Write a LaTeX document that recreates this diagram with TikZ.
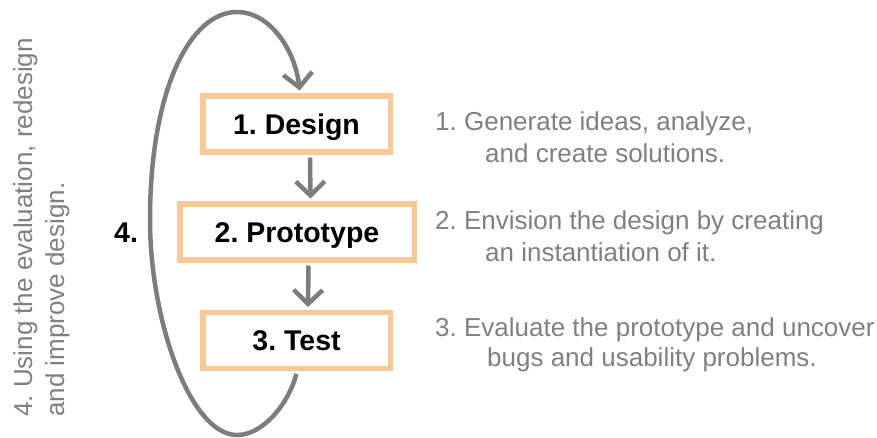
\documentclass[tikz,border=0pt]{standalone}
\usepackage{fontspec}
\setmainfont{Liberation Sans}
\usetikzlibrary{arrows.meta}
\definecolor{peach}{RGB}{250,200,150}
\definecolor{flowgray}{RGB}{125,125,125}
\definecolor{notegray}{RGB}{128,128,128}
\frenchspacing
\begin{document}
\begin{tikzpicture}[x=1pt,y=-1pt,
  stagebox/.style={draw=peach, line width=5.5pt, fill=white, minimum height=56pt,
    inner sep=0pt, text height=20.5pt, text depth=0pt,
    font=\fontsize{28.5}{34}\selectfont\bfseries},
  flow/.style={draw=flowgray, line width=4.5pt,
    -{Straight Barb[length=14pt,width=29pt,line width=4.5pt]},
    shorten <=2.75pt, shorten >=2.75pt},
  note/.style={anchor=base west, inner sep=0pt, text=notegray,
    font=\fontsize{26}{31}\selectfont}]
\useasboundingbox (0,0) rectangle (877,437);

% process stages
\node[stagebox, minimum width=187.5pt] (design) at (296.5,124) {1. Design};
\node[stagebox, minimum width=234.5pt] (proto)  at (297,232)   {2. Prototype};
\node[stagebox, minimum width=187.5pt] (test)   at (296.5,340.5) {3. Test};

% step-to-step arrows
\draw[flow] ([xshift=13.5pt]design.south) -- ([xshift=13.5pt]proto.north);
\draw[flow] ([xshift=11.5pt]proto.south) -- ([xshift=11.5pt]test.north);

% feedback loop from test back to design
\draw[flow] ([xshift=0.5pt]test.south)
  .. controls (290,400) and (265,435) .. (237,435)
  .. controls (190,435) and (150,320) .. (150,220)
  .. controls (150,90) and (190,12) .. (237,12)
  .. controls (270,12) and (295,50) .. ([xshift=3.5pt]design.north);

\node[anchor=base west, inner sep=0pt, font=\fontsize{28.5}{34}\selectfont\bfseries]
  (four) at (114,242) {4.};

% step descriptions
\node[note] (d1a) at (435,130) {1. Generate ideas, analyze,};
\node[note] (d1b) at (485,162) {and create solutions.};
\node[note] (d2a) at (435,229) {2. Envision the design by creating};
\node[note] (d2b) at (485,261) {an instantiation of it.};
\node[note] (d3a) at (435,336) {3. Evaluate the prototype and uncover};
\node[note] (d3b) at (487,366) {bugs and usability problems.};

% loop description, set vertically
\node[note, rotate=90] (d4a) at (32,417) {4. Using the evaluation, redesign};
\node[note, rotate=90] (d4b) at (64,417) {and improve design.};
\end{tikzpicture}
\end{document}
